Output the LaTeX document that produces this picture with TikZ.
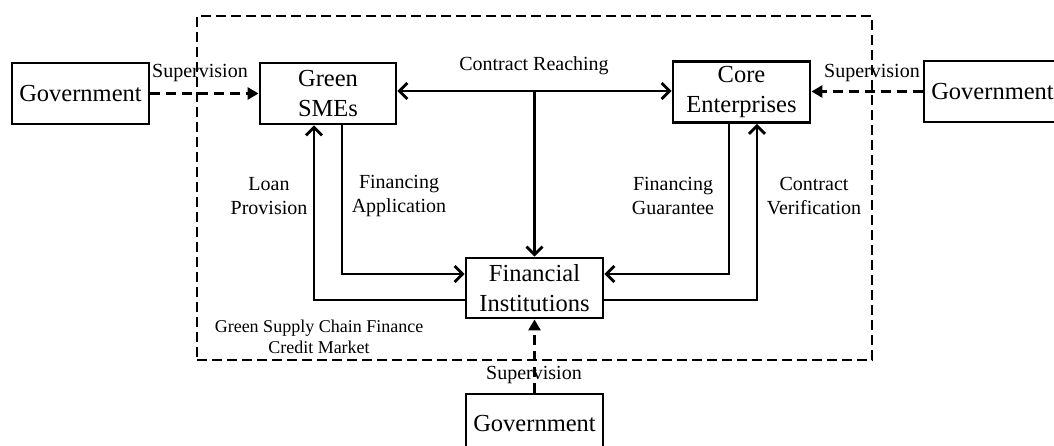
\documentclass[tikz,border=0pt]{standalone}
\usepackage{fontspec}
\setmainfont{Liberation Serif}
\usetikzlibrary{arrows.meta}
\tikzset{
  box/.style={draw, line width=2.9pt, minimum width=137pt, minimum height=61pt, inner sep=0pt, align=center, font=\fontsize{24.5}{30}\selectfont},
  lbl/.style={inner sep=0pt, align=center, font=\fontsize{20}{24}\selectfont},
  mktlbl/.style={inner sep=0pt, align=center, font=\fontsize{18}{21}\selectfont},
  market/.style={draw, line width=1.5pt, dash pattern=on 10pt off 5pt, minimum width=675pt, minimum height=344pt, inner sep=0pt},
  arr/.style={line width=2.7pt, -{Straight Barb[length=8pt,width=16pt]}},
  biarr/.style={line width=2.7pt, {Straight Barb[length=8pt,width=16pt]}-{Straight Barb[length=8pt,width=16pt]}},
  sup/.style={line width=3pt, dash pattern=on 10pt off 6pt, -{Triangle[length=11pt,width=12pt]}}
}
\begin{document}
\begin{tikzpicture}[x=1pt,y=-1pt]
\useasboundingbox (0,0) rectangle (1054,446);
\node[market] (mkt) at (534.5,188) {};
\node[box] (govL) at (80.5,93.5) {Government};
\node[box, minimum width=136pt] (sme) at (328,93.5) {Green\\SMEs};
\node[box] (core) at (741.5,92) {Core\\Enterprises};
\node[box] (govR) at (992.5,91.5) {Government};
\node[box, minimum height=60pt] (fin) at (534.5,288) {Financial\\Institutions};
\node[box, minimum height=60pt] (govB) at (534.5,424) {Government};
% labels
\node[lbl] (supL) at (200,73) {Supervision};
\node[lbl] (supR) at (872,73) {Supervision};
\node[lbl] (supB) at (534,375) {Supervision};
\node[lbl] (contr) at (534,66) {Contract Reaching};
\node[lbl] (loan) at (269,196) {Loan\\Provision};
\node[lbl] (app) at (399,196) {Financing\\Application};
\node[lbl] (guar) at (673,196) {Financing\\Guarantee};
\node[lbl] (verif) at (814,196) {Contract\\Verification};
\node[mktlbl] (mktl) at (319,336.5) {Green Supply Chain Finance\\Credit Market};
% connectors
\draw[sup] (govL.east) -- (govL.east -| sme.west);
\draw[sup] (govR.west) -- (govR.west -| core.east);
\draw[sup] (govB.north) -- (fin.south);
\coordinate (cr) at (fin.north |- 0,91);
\draw[biarr] (cr -| sme.east) -- (cr -| core.west);
\draw[arr] (cr) -- (fin.north);
\draw[arr] ([yshift=-12pt]fin.west) -| ([xshift=-14pt]sme.south);
\draw[arr] ([xshift=14pt]sme.south) |- ([yshift=14pt]fin.west);
\draw[arr] ([xshift=-12.5pt]core.south) |- ([yshift=14pt]fin.east);
\draw[arr] ([yshift=-12pt]fin.east) -| ([xshift=15.5pt]core.south);
\end{tikzpicture}
\end{document}
